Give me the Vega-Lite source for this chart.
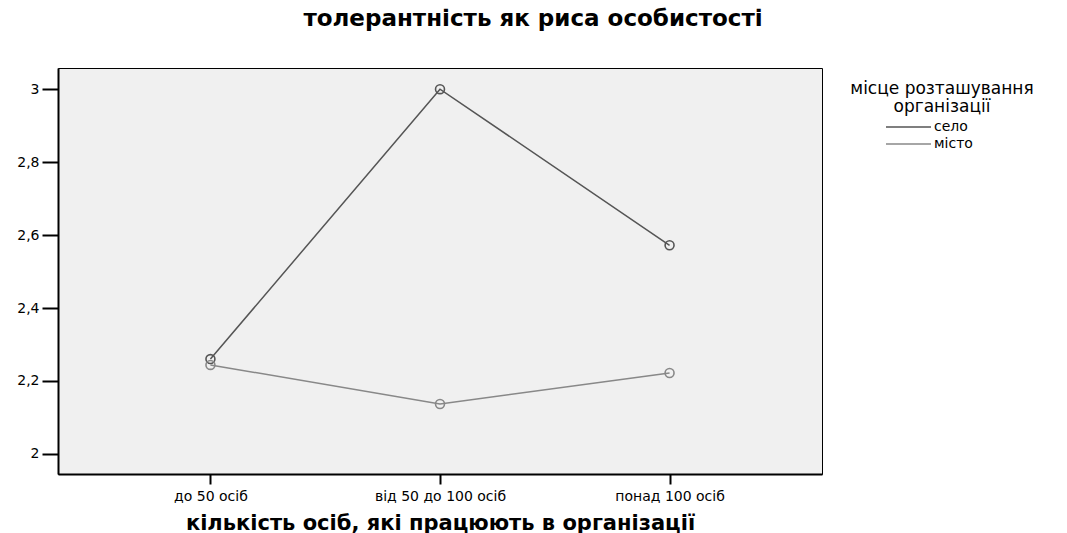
{
  "$schema": "https://vega.github.io/schema/vega-lite/v6.json",
  "autosize": {"type": "none"},
  "padding": {"left": 58, "top": 68, "right": 245, "bottom": 59},
  "width": 764,
  "height": 406,
  "background": "#ffffff",
  "config": {
    "font": "DejaVu Sans",
    "view": {"fill": "#f0f0f0", "stroke": "#000000", "strokeWidth": 1}
  },
  "title": {
    "text": "толерантність як риса особистості",
    "fontSize": 23,
    "fontWeight": "bold",
    "font": "DejaVu Sans",
    "color": "#000000",
    "anchor": "middle",
    "frame": "group",
    "dx": 93,
    "offset": 37
  },
  "data": {
    "values": [
      {"group": "до 50 осіб", "place": "село", "value": 2.26},
      {"group": "від 50 до 100 осіб", "place": "село", "value": 3.0},
      {"group": "понад 100 осіб", "place": "село", "value": 2.572},
      {"group": "до 50 осіб", "place": "місто", "value": 2.244},
      {"group": "від 50 до 100 осіб", "place": "місто", "value": 2.137},
      {"group": "понад 100 осіб", "place": "місто", "value": 2.222}
    ]
  },
  "encoding": {
    "x": {
      "field": "group",
      "type": "ordinal",
      "sort": ["до 50 осіб", "від 50 до 100 осіб", "понад 100 осіб"],
      "scale": {"type": "point", "padding": 0.664},
      "axis": {
        "title": "кількість осіб, які працюють в організації",
        "titleFontSize": 21,
        "titleFontWeight": "bold",
        "titleColor": "#000000",
        "titlePadding": 9,
        "labelAngle": 0,
        "labelFontSize": 14,
        "labelColor": "#000000",
        "labelPadding": 5,
        "tickSize": 10,
        "tickWidth": 2,
        "tickColor": "#000000",
        "domainColor": "#000000",
        "domainWidth": 2,
        "grid": false
      }
    },
    "y": {
      "field": "value",
      "type": "quantitative",
      "scale": {"domain": [1.945, 3.058], "nice": false, "zero": false},
      "axis": {
        "title": null,
        "values": [2, 2.2, 2.4, 2.6, 2.8, 3],
        "labelExpr": "replace(format(datum.value, '~g'), '.', ',')",
        "labelFontSize": 14,
        "labelColor": "#000000",
        "labelPadding": 3,
        "tickSize": 16,
        "tickWidth": 2,
        "tickColor": "#000000",
        "domainColor": "#000000",
        "domainWidth": 2,
        "grid": false
      }
    },
    "color": {
      "field": "place",
      "type": "nominal",
      "scale": {"domain": ["село", "місто"], "range": ["#555555", "#888888"]},
      "legend": {
        "title": ["місце розташування", "організації"],
        "titleFontSize": 17,
        "titleFontWeight": "normal",
        "titleColor": "#000000",
        "titleAnchor": "middle",
        "titleAlign": "center",
        "titlePadding": 1,
        "titleLineHeight": 18,
        "titleLimit": 400,
        "labelFontSize": 14,
        "labelColor": "#000000",
        "labelOffset": 2,
        "symbolType": "M-4,0H1",
        "symbolSize": 324,
        "symbolStrokeWidth": 1.5,
        "rowPadding": 0,
        "orient": "none",
        "legendX": 792,
        "legendY": 13
      }
    }
  },
  "layer": [
    {"mark": {"type": "line", "strokeWidth": 1.5}},
    {"mark": {"type": "point", "filled": false, "size": 80, "strokeWidth": 1.6, "opacity": 1}}
  ]
}
